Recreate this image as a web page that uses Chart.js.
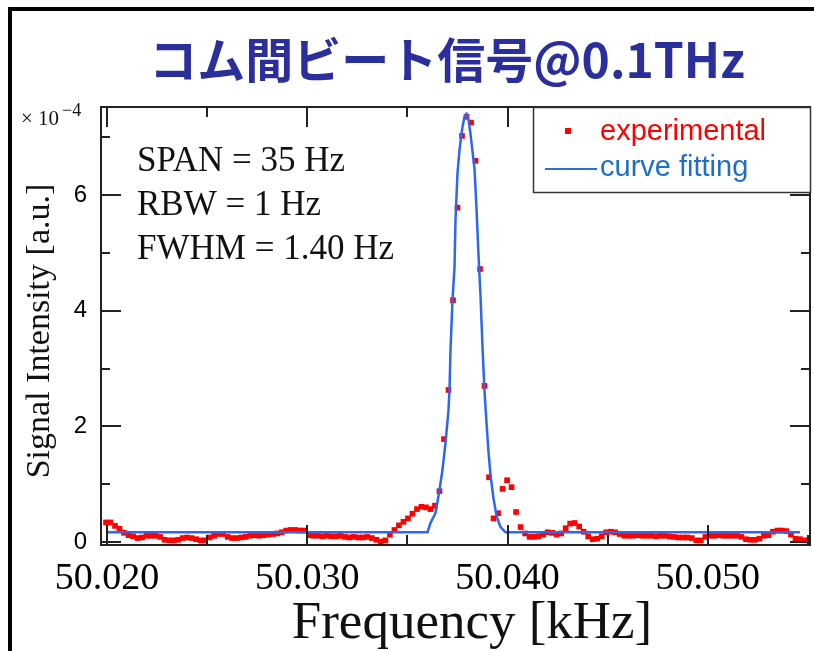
<!DOCTYPE html>
<html>
<head>
<meta charset="utf-8">
<script src="https://cdn.jsdelivr.net/npm/chart.js@4.4.1/dist/chart.umd.min.js"></script>
<style>
  html, body { margin: 0; padding: 0; background: #fff; overflow: hidden; }
</style>
</head>
<body>
<canvas id="beatChart" width="814" height="651"></canvas>
<script>
// analyser trace: first bin and bin spacing (kHz)
var traceStart = 50.01995;
var traceStep = 0.000225;

// measured signal intensity (x 1e-4 a.u.), one value per bin
var expValues = [
    0.34, 0.34, 0.28, 0.23, 0.16, 0.12, 0.10, 0.07, 0.08, 0.11,
    0.11, 0.11, 0.09, 0.04, 0.03, 0.03, 0.04, 0.07, 0.08, 0.07,
    0.05, 0.03, 0.03, 0.08, 0.11, 0.14, 0.14, 0.09, 0.07, 0.07,
    0.08, 0.09, 0.11, 0.12, 0.11, 0.12, 0.13, 0.14, 0.15, 0.17,
    0.20, 0.21, 0.21, 0.20, 0.20, 0.12, 0.11, 0.11, 0.10, 0.11,
    0.10, 0.10, 0.11, 0.09, 0.08, 0.09, 0.08, 0.08, 0.09, 0.07,
    0.04, 0.01, 0.03, 0.13, 0.21, 0.29, 0.35, 0.41, 0.49, 0.57,
    0.61, 0.60, 0.57, 0.63, 0.88, 1.78, 2.63, 4.18, 5.78, 7.02,
    7.35, 7.25, 6.59, 4.72, 2.70, 1.12, 0.41, 0.50, 0.92, 1.07,
    0.95, 0.52, 0.26, 0.15, 0.09, 0.09, 0.10, 0.13, 0.17, 0.16,
    0.13, 0.15, 0.24, 0.32, 0.33, 0.27, 0.18, 0.10, 0.05, 0.06,
    0.10, 0.17, 0.18, 0.17, 0.14, 0.11, 0.11, 0.11, 0.12, 0.11,
    0.11, 0.11, 0.10, 0.11, 0.11, 0.10, 0.09, 0.08, 0.08, 0.08,
    0.07, 0.03, 0.03, 0.09, 0.11, 0.11, 0.12, 0.11, 0.11, 0.11,
    0.11, 0.09, 0.05, 0.04, 0.04, 0.06, 0.11, 0.12, 0.18, 0.20,
    0.20, 0.19, 0.13, 0.06, 0.05, 0.03, 0.03
];

// fitted line shape
var fitFreq = [
    50.01995, 50.0360, 50.03615, 50.0364, 50.0366, 50.03675, 50.0369,
    50.03705, 50.0371, 50.03715, 50.03725, 50.03735, 50.0374, 50.0375,
    50.0376, 50.03775, 50.03785, 50.03795, 50.03805, 50.03815, 50.03825,
    50.03835, 50.03845, 50.03855, 50.03865, 50.03875, 50.03885, 50.03895,
    50.03905, 50.03915, 50.0393, 50.03945, 50.03965, 50.0399, 50.0546
];
var fitValues = [
    0.17, 0.17, 0.33, 0.50, 0.90, 1.25, 1.71,
    2.28, 2.63, 3.32, 4.18, 4.75, 5.57, 6.38,
    6.78, 7.18, 7.35, 7.40, 7.30, 7.05, 6.75,
    6.45, 5.75, 4.95, 4.25, 3.35, 2.60, 2.05,
    1.55, 1.15, 0.75, 0.45, 0.26, 0.17, 0.17
];

var xMajor = [50.020, 50.030, 50.040, 50.050];
var xMinor = [50.025, 50.035, 50.045, 50.055];
var yMajor = [0, 2, 4, 6];
var yMinor = [1, 3, 5, 7];

var titleText = 'コム間ビート信号@0.1THz';
var notes = ['SPAN = 35 Hz', 'RBW = 1 Hz', 'FWHM = 1.40 Hz'];
var seriesNames = ['experimental', 'curve fitting'];

var expPoints = expValues.map(function (v, i) {
    return { x: traceStart + traceStep * i, y: v };
});
var fitPoints = fitFreq.map(function (f, i) {
    return { x: f, y: fitValues[i] };
});

var RED = '#ff0000';
var BLUE = '#2f66f0';
var SERIF = '"Liberation Serif", "Times New Roman", serif';
var SANS = '"Liberation Sans", Arial, sans-serif';

// box, inward ticks, texts and legend
var decor = {
    id: 'decor',
    afterDatasetsDraw: function (chart) {
        var ctx = chart.ctx, a = chart.chartArea;
        var x = chart.scales.x, y = chart.scales.y;
        ctx.save();
        ctx.strokeStyle = '#222';
        ctx.lineWidth = 2;
        ctx.beginPath();
        function xt(vals, len) {
            vals.forEach(function (v) {
                var px = Math.round(x.getPixelForValue(v));
                ctx.moveTo(px, a.bottom); ctx.lineTo(px, a.bottom - len);
                ctx.moveTo(px, a.top); ctx.lineTo(px, a.top + len);
            });
        }
        function yt(vals, len) {
            vals.forEach(function (v) {
                var py = Math.round(y.getPixelForValue(v));
                ctx.moveTo(a.left, py); ctx.lineTo(a.left + len, py);
                ctx.moveTo(a.right, py); ctx.lineTo(a.right - len, py);
            });
        }
        xt(xMajor, 20); xt(xMinor, 10);
        yt(yMajor, 20); yt(yMinor, 9);
        ctx.stroke();
        ctx.strokeRect(a.left, a.top, a.right - a.left, a.bottom - a.top);
        ctx.restore();
    },
    afterDraw: function (chart) {
        var ctx = chart.ctx;
        ctx.save();

        // outer frame
        ctx.fillStyle = '#000';
        ctx.fillRect(8, 7, 806, 4);
        ctx.fillRect(8, 7, 4, 644);

        // heading
        ctx.fillStyle = '#2b2f9b';
        ctx.font = 'bold 48px "Noto Sans CJK JP", sans-serif';
        ctx.textAlign = 'center';
        ctx.textBaseline = 'alphabetic';
        ctx.fillText(titleText, 447, 78);

        // exponent marker
        ctx.fillStyle = '#111';
        ctx.textAlign = 'left';
        ctx.font = '21px ' + SERIF;
        ctx.fillText('× 10', 21, 125);
        ctx.font = '18px ' + SERIF;
        ctx.fillText('−4', 62, 116);

        // measurement settings
        ctx.font = '35px ' + SERIF;
        notes.forEach(function (t, i) {
            ctx.fillText(t, 137, 171 + i * 44);
        });

        // axis titles
        ctx.textAlign = 'center';
        ctx.font = '53px ' + SERIF;
        ctx.fillText('Frequency [kHz]', 472, 638);
        ctx.save();
        ctx.translate(40, 331);
        ctx.rotate(-Math.PI / 2);
        ctx.textBaseline = 'middle';
        ctx.font = '34px ' + SERIF;
        ctx.fillText('Signal Intensity [a.u.]', 0, 0);
        ctx.restore();

        // legend
        ctx.fillStyle = '#fff';
        ctx.fillRect(533, 107, 278, 86);
        ctx.strokeStyle = '#333';
        ctx.lineWidth = 1.5;
        ctx.strokeRect(533.5, 107.5, 277, 85);
        ctx.fillStyle = RED;
        ctx.fillRect(565, 128, 6, 6);
        ctx.strokeStyle = '#2a70d0';
        ctx.lineWidth = 2;
        ctx.beginPath();
        ctx.moveTo(545, 169); ctx.lineTo(597, 169);
        ctx.stroke();
        ctx.textAlign = 'left';
        ctx.textBaseline = 'middle';
        ctx.font = '29px ' + SANS;
        ctx.fillText(seriesNames[0], 600, 132);
        ctx.fillStyle = '#1f6fc5';
        ctx.fillText(seriesNames[1], 600, 168);

        ctx.restore();
    }
};

var ctx = document.getElementById('beatChart').getContext('2d');
var chart = new Chart(ctx, {
    type: 'scatter',
    data: {
        datasets: [{
            label: seriesNames[0],
            data: expPoints,
            pointStyle: 'rect',
            pointRadius: 4,
            pointBackgroundColor: RED,
            pointBorderWidth: 0,
            showLine: false,
            order: 2
        }, {
            label: seriesNames[1],
            data: fitPoints,
            showLine: true,
            borderColor: BLUE,
            borderWidth: 2.5,
            pointRadius: 0,
            tension: 0,
            order: 1
        }]
    },
    options: {
        responsive: false,
        animation: false,
        devicePixelRatio: 1,
        layout: { padding: { top: 107, right: 4, left: 0, bottom: 0 } },
        plugins: {
            legend: { display: false },
            title: { display: false },
            tooltip: { enabled: false }
        },
        scales: {
            x: {
                type: 'linear',
                min: 50.0197,
                max: 50.0551,
                afterBuildTicks: function (s) {
                    s.ticks = xMajor.map(function (v) { return { value: v }; });
                },
                afterFit: function (s) { s.height = 106; },
                grid: { display: false, drawTicks: false },
                border: { display: false },
                ticks: {
                    callback: function (v) { return v.toFixed(3); },
                    font: { family: 'Liberation Serif', size: 38 },
                    color: '#000',
                    padding: 11,
                    maxRotation: 0,
                    autoSkip: false
                }
            },
            y: {
                min: -0.05,
                max: 7.52,
                afterBuildTicks: function (s) {
                    s.ticks = yMajor.map(function (v) { return { value: v }; });
                },
                afterFit: function (s) { s.width = 101; },
                grid: { display: false, drawTicks: false },
                border: { display: false },
                ticks: {
                    font: { family: 'Liberation Sans', size: 24 },
                    color: '#000',
                    padding: 14
                }
            }
        }
    },
    plugins: [decor]
});
</script>
</body>
</html>
